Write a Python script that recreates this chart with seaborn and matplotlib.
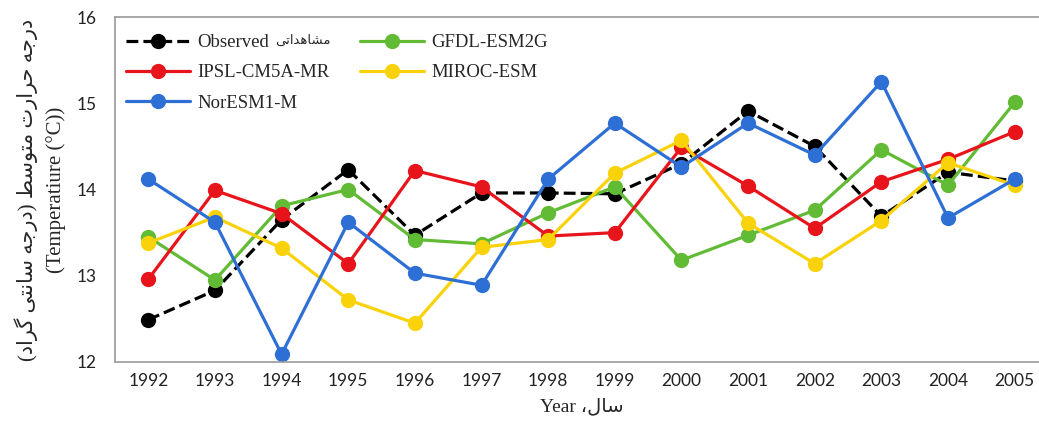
import pandas as pd
import matplotlib
matplotlib.use("Agg")
import matplotlib.pyplot as plt
import seaborn as sns

years = [1992, 1993, 1994, 1995, 1996, 1997, 1998, 1999, 2000, 2001, 2002, 2003, 2004, 2005]
observed = [12.49, 12.83, 13.65, 14.23, 13.47, 13.96, 13.96, 13.95, 14.30, 14.91, 14.50, 13.69, 14.20, 14.10]
gfdl = [13.45, 12.95, 13.81, 14.00, 13.42, 13.37, 13.73, 14.03, 13.18, 13.47, 13.76, 14.46, 14.05, 15.01]
ipsl = [12.96, 13.99, 13.72, 13.14, 14.22, 14.03, 13.46, 13.50, 14.49, 14.04, 13.55, 14.09, 14.35, 14.67]
miroc = [13.38, 13.68, 13.32, 12.72, 12.45, 13.33, 13.42, 14.19, 14.57, 13.61, 13.14, 13.64, 14.31, 14.05]
noresm = [14.12, 13.62, 12.09, 13.62, 13.03, 12.89, 14.12, 14.77, 14.26, 14.77, 14.40, 15.25, 13.67, 14.12]

series_names = ["Observed", "GFDL-ESM2G", "IPSL-CM5A-MR", "MIROC-ESM", "NorESM1-M"]
series_values = [observed, gfdl, ipsl, miroc, noresm]
colors = ["#000000", "#62bb35", "#e8141b", "#f9d20a", "#2e6fd6"]

# matplotlib has no arabic shaping, so pick the presentation forms by hand
FORMS = {
    'ا': ('\uFE8D', '\uFE8E', None, None),
    'ت': ('\uFE95', '\uFE96', '\uFE97', '\uFE98'),
    'ج': ('\uFE9D', '\uFE9E', '\uFE9F', '\uFEA0'),
    'ح': ('\uFEA1', '\uFEA2', '\uFEA3', '\uFEA4'),
    'د': ('\uFEA9', '\uFEAA', None, None),
    'ر': ('\uFEAD', '\uFEAE', None, None),
    'س': ('\uFEB1', '\uFEB2', '\uFEB3', '\uFEB4'),
    'ش': ('\uFEB5', '\uFEB6', '\uFEB7', '\uFEB8'),
    'ط': ('\uFEC1', '\uFEC2', '\uFEC3', '\uFEC4'),
    'ل': ('\uFEDD', '\uFEDE', '\uFEDF', '\uFEE0'),
    'م': ('\uFEE1', '\uFEE2', '\uFEE3', '\uFEE4'),
    'ن': ('\uFEE5', '\uFEE6', '\uFEE7', '\uFEE8'),
    'ه': ('\uFEE9', '\uFEEA', '\uFEEB', '\uFEEC'),
    'و': ('\uFEED', '\uFEEE', None, None),
    'ی': ('\uFBFC', '\uFBFD', '\uFBFE', '\uFBFF'),
    'گ': ('\uFB92', '\uFB93', '\uFB94', '\uFB95'),
}


def persian(text):
    out = []
    for i, ch in enumerate(text):
        if ch not in FORMS:
            out.append(ch)
            continue
        prev = text[i - 1] if i > 0 else ''
        nxt = text[i + 1] if i + 1 < len(text) else ''
        j_prev = prev in FORMS and FORMS[prev][2] is not None
        j_next = nxt in FORMS and FORMS[ch][2] is not None
        f = FORMS[ch]
        if j_prev and j_next:
            out.append(f[3])
        elif j_prev:
            out.append(f[1])
        elif j_next:
            out.append(f[2])
        else:
            out.append(f[0])
    vis = ''.join(reversed(out))
    return vis.translate(str.maketrans('()', ')('))


sns.set_style("white")
plt.rcParams['font.family'] = ['Liberation Serif', 'DejaVu Sans']

fig = plt.figure(figsize=(10.39, 4.25), dpi=100)
ax = fig.add_axes([115 / 1039, 1 - 362 / 425, (1048 - 115) / 1039, (362 - 17) / 425])

df = pd.DataFrame({"year": years})
handles = {}
for name, vals, col in zip(series_names, series_values, colors):
    df[name] = vals
    sns.lineplot(data=df, x="year", y=name, ax=ax, color=col, lw=2.3,
                 marker="o", markersize=11, markeredgewidth=0,
                 linestyle="--" if name == "Observed" else "-",
                 dashes=(3, 1.6) if name == "Observed" else (None, None))
    handles[name] = ax.lines[-1]

ax.set_xlim(1991.5, 2005.5)
ax.set_ylim(12, 16)
ax.set_xticks(years)
ax.set_yticks([12, 13, 14, 15, 16])
ax.tick_params(axis="both", length=0, labelsize=12.5, colors="#222222")
ax.tick_params(axis="y", pad=13)
ax.tick_params(axis="x", pad=8)
for lab in ax.get_xticklabels() + ax.get_yticklabels():
    lab.set_fontfamily("Lato")

for side in ["left", "top", "bottom"]:
    ax.spines[side].set_color("#999999")
    ax.spines[side].set_linewidth(1.2)
ax.spines["right"].set_visible(False)

ax.set_xlabel("Year " + persian("سال،"), fontsize=14, labelpad=6)
ax.set_ylabel(persian("درجه حرارت متوسط (درجه سانتی گراد)") + "\n(Temperatiure (°C))",
              fontsize=15, labelpad=8, linespacing=1.55)

order = ["Observed", "IPSL-CM5A-MR", "NorESM1-M", "GFDL-ESM2G", "MIROC-ESM"]
leg = ax.legend([handles[n] for n in order], order,
                ncol=2, frameon=False, loc="upper left", bbox_to_anchor=(0.0, 0.983),
                fontsize=13.5, handlelength=3.4, handletextpad=0.4,
                columnspacing=1.6, labelspacing=0.7, borderaxespad=0.2)
# the persian word after "Observed" is set smaller in the original legend
ax.annotate(persian("مشاهداتی"), xy=(1, 0), xycoords=leg.get_texts()[0],
            xytext=(4, 3), textcoords="offset points", fontsize=9.5,
            ha="left", va="bottom", zorder=10)

fig.savefig("out.png", dpi=100)
